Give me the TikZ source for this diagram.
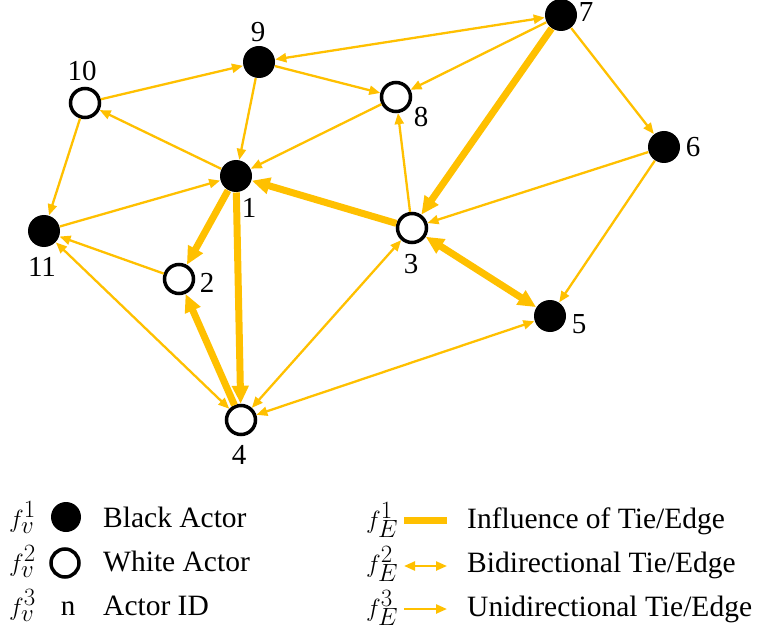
\documentclass[tikz,border=0pt]{standalone}
\usepackage{fontspec}
\setmainfont{Liberation Serif}
\newfontfamily\timesfont{Liberation Serif}
\usetikzlibrary{arrows.meta}
\definecolor{gold}{RGB}{255,192,0}
\begin{document}
\begin{tikzpicture}[x=1pt,y=-1pt,
  blk/.style={circle,fill=black,minimum size=32pt,inner sep=0pt,outer sep=0.5pt},
  wht/.style={circle,draw=black,fill=white,line width=3.5pt,minimum size=29pt,inner sep=0pt},
  lbl/.style={font=\timesfont\fontsize{29}{32}\selectfont,inner sep=0pt},
  txt/.style={font=\timesfont\fontsize{29.5}{32}\selectfont,inner sep=0pt,anchor=base west},
  mth/.style={font=\fontsize{34}{36}\selectfont,inner sep=0pt,anchor=base west},
  uni/.style={draw=gold,line width=2.3pt,-{Triangle[length=11pt,width=9pt]}},
  bi/.style={draw=gold,line width=2.3pt,{Triangle[length=11pt,width=9pt]}-{Triangle[length=11pt,width=9pt]}},
  thk/.style={draw=gold,line width=7pt,-{Triangle[length=18pt,width=16pt]}},
  thkbi/.style={draw=gold,line width=7pt,{Triangle[length=18pt,width=16pt]}-{Triangle[length=18pt,width=16pt]}}
]
\useasboundingbox (0,0) rectangle (762,636);
% nodes
\node[blk] (n1) at (236,176) {};
\node[wht] (n2) at (179,279) {};
\node[wht] (n3) at (412,228) {};
\node[wht] (n4) at (241,420) {};
\node[blk] (n5) at (550,316) {};
\node[blk] (n6) at (664,147) {};
\node[blk] (n7) at (561,15) {};
\node[wht] (n8) at (396,97) {};
\node[blk] (n9) at (259,62) {};
\node[wht] (n10) at (85,103) {};
\node[blk] (n11) at (44,231) {};
% labels
\node[lbl] (l1) at (249,208) {1};
\node[lbl] (l2) at (207,283) {2};
\node[lbl] (l3) at (411,264) {3};
\node[lbl] (l4) at (239,455) {4};
\node[lbl] (l5) at (579,324) {5};
\node[lbl] (l6) at (693,147) {6};
\node[lbl] (l7) at (586,12) {7};
\node[lbl] (l8) at (421,117) {8};
\node[lbl] (l9) at (258,32) {9};
\node[lbl] (l10) at (82,71) {10};
\node[lbl] (l11) at (42,267) {11};
% thin edges
\draw[uni] (n10) -- (n9);
\draw[bi] (n7) -- (n9);
\draw[uni] (n9) -- (n8);
\draw[uni] (n9) -- (n1);
\draw[uni] (n1) -- (n10);
\draw[uni] (n10) -- (n11);
\draw[uni] (n11) -- (n1);
\draw[uni] (n8) -- (n1);
\draw[uni] (n7) -- (n8);
\draw[uni] (n7) -- (n6);
\draw[uni] (n6) -- (n3);
\draw[uni] (n6) -- (n5);
\draw[uni] (n3) -- (n8);
\draw[uni] (n2) -- (n11);
\draw[bi] (n11) -- (n4);
\draw[bi] (n4) -- (n3);
\draw[bi] (n4) -- (n5);
% thick edges
\draw[thk] (n7) -- (n3);
\draw[thk] (n3) -- (n1);
\draw[thkbi] (n3) -- (n5);
\draw[thk] (n1) -- (n2);
\draw[thk] (n1) -- (n4);
\draw[thk] (n4) -- (n2);
% legend left
\node[mth] (fv1) at (9,527) {$f_v^1$};
\node[mth] (fv2) at (9,571) {$f_v^2$};
\node[mth] (fv3) at (9,615) {$f_v^3$};
\node[blk,minimum size=30pt] (lb) at (66,517) {};
\node[wht,minimum size=28pt] (lw) at (65,563) {};
\node[lbl,anchor=base] (ln) at (68,615) {n};
\node[txt] (t1) at (103,527) {Black Actor};
\node[txt] (t2) at (103,571) {White Actor};
\node[txt] (t3) at (103,615) {Actor ID};
% legend right
\node[mth] (fe1) at (366,528) {$f_E^1$};
\node[mth] (fe2) at (366,572) {$f_E^2$};
\node[mth] (fe3) at (366,616) {$f_E^3$};
\coordinate (a1) at (404,520);
\coordinate (b1) at (447,520);
\coordinate (a2) at (404,566);
\coordinate (b2) at (447,566);
\coordinate (a3) at (404,609);
\coordinate (b3) at (447,609);
\draw[draw=gold,line width=7pt] (a1) -- (b1);
\draw[bi] (a2) -- (b2);
\draw[uni] (a3) -- (b3);
\node[txt] (u1) at (467,528) {Influence of Tie/Edge};
\node[txt] (u2) at (467,572) {Bidirectional Tie/Edge};
\node[txt] (u3) at (467,616) {Unidirectional Tie/Edge};
\end{tikzpicture}
\end{document}
